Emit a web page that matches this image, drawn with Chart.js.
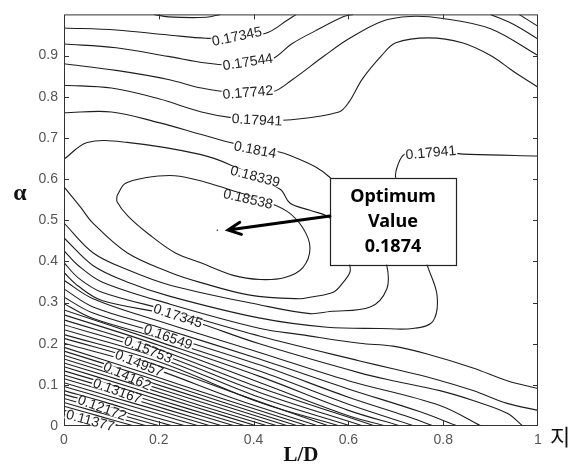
<!DOCTYPE html>
<html>
<head>
<meta charset="utf-8">
<script src="https://cdn.jsdelivr.net/npm/chart.js@4.4.0/dist/chart.umd.min.js"></script>
<style>
  html, body { margin: 0; padding: 0; background: #fff; }
</style>
</head>
<body>
<canvas id="contour" width="577" height="468"></canvas>
<script>
// axis ticks
const xTicks = [0, 0.2, 0.4, 0.6, 0.8, 1];
const yTicks = [0, 0.1, 0.2, 0.3, 0.4, 0.5, 0.6, 0.7, 0.8, 0.9];

// upper contours (L/D, alpha pairs)
const top17146 = [[0.19, 1.0], [0.22, 0.994], [0.30, 0.993], [0.33, 1.0]];
const top17345 = [[0, 0.967], [0.11, 0.962], [0.22, 0.950], [0.30, 0.942], [0.37, 0.942], [0.43, 0.956], [0.47, 0.985], [0.49, 1.0]];
const top17345r = [[0.96, 1.0], [1.0, 0.971]];
const top17544 = [[0, 0.928], [0.11, 0.919], [0.22, 0.898], [0.30, 0.882], [0.38, 0.876], [0.44, 0.892], [0.48, 0.928], [0.53, 0.96], [0.59, 0.995], [0.61, 1.0]];
const top17544r = [[0.90, 1.0], [0.95, 0.975], [1.0, 0.94]];
const top17742 = [[0, 0.880], [0.11, 0.864], [0.22, 0.842], [0.29, 0.821], [0.36, 0.810], [0.44, 0.812], [0.48, 0.84], [0.55, 0.90], [0.60, 0.94], [0.67, 0.983], [0.73, 0.995], [0.80, 0.990], [0.90, 0.965], [1.0, 0.90]];
const top17941 = [[0, 0.828], [0.10, 0.821], [0.20, 0.795], [0.29, 0.763], [0.36, 0.748], [0.43, 0.744], [0.48, 0.744], [0.58, 0.763], [0.60, 0.785], [0.63, 0.844], [0.67, 0.90], [0.70, 0.931], [0.77, 0.943], [0.84, 0.931], [0.90, 0.90], [0.95, 0.86], [1.0, 0.823]];

// contours around the optimum
const loop1814 = [[0, 0.761], [0.10, 0.763], [0.20, 0.737], [0.29, 0.708], [0.36, 0.686], [0.45, 0.667], [0.48, 0.656], [0.53, 0.630], [0.56, 0.605], [0.65, 0.50], [0.681, 0.39], [0.681, 0.333], [0.646, 0.289], [0.561, 0.278], [0.519, 0.273], [0.414, 0.294], [0.224, 0.342], [0.133, 0.380], [0.061, 0.421], [0, 0.493]];
const loop18339 = [[0, 0.648], [0.049, 0.689], [0.133, 0.689], [0.287, 0.660], [0.35, 0.635], [0.456, 0.575], [0.477, 0.541], [0.519, 0.524], [0.561, 0.505], [0.59, 0.45], [0.603, 0.39], [0.603, 0.373], [0.589, 0.349], [0.568, 0.325], [0.519, 0.313], [0.498, 0.309], [0.392, 0.318], [0.287, 0.349], [0.224, 0.373], [0.133, 0.421], [0.061, 0.493], [0.034, 0.533], [0, 0.581]];
const ring18538 = [[0.112, 0.560], [0.129, 0.589], [0.171, 0.603], [0.234, 0.608], [0.297, 0.593], [0.350, 0.574], [0.414, 0.550], [0.470, 0.522], [0.504, 0.481], [0.519, 0.433], [0.504, 0.385], [0.466, 0.361], [0.414, 0.356], [0.357, 0.366], [0.287, 0.397], [0.234, 0.421], [0.181, 0.464], [0.135, 0.510], [0.112, 0.545], [0.112, 0.560]];
const side17941 = [[1.0, 0.656], [0.857, 0.660], [0.77, 0.665], [0.719, 0.660], [0.705, 0.636], [0.70, 0.603], [0.74, 0.50], [0.766, 0.392], [0.787, 0.318], [0.778, 0.254], [0.736, 0.237], [0.667, 0.237], [0.555, 0.240], [0.414, 0.262], [0.224, 0.315], [0.133, 0.350], [0.061, 0.390], [0, 0.457]];

// lower contours that run out at the right edge
const low17742 = [[0, 0.426], [0.03, 0.39], [0.08, 0.35], [0.224, 0.296], [0.414, 0.237], [0.50, 0.222], [0.624, 0.201], [0.694, 0.194], [0.766, 0.175], [0.863, 0.141], [0.935, 0.110], [1.0, 0.091]];
const low17544 = [[0, 0.397], [0.03, 0.36], [0.08, 0.325], [0.224, 0.280], [0.414, 0.218], [0.624, 0.158], [0.694, 0.139], [0.78, 0.115], [0.863, 0.086], [0.935, 0.055], [1.0, 0.038]];
const low17345 = [[0, 0.373], [0.03, 0.34], [0.08, 0.305], [0.24, 0.266], [0.414, 0.199], [0.624, 0.129], [0.694, 0.110], [0.793, 0.086], [0.863, 0.062], [0.935, 0.031], [0.968, 0]];

// dense band, lowest level first (0.11377, 0.11576, ...)
const denseLines = [
  [[0, 0.029], [0.030, 0.019], [0.059, 0.010], [0.089, 0]],
  [[0, 0.038], [0.039, 0.025], [0.079, 0.013], [0.118, 0]],
  [[0, 0.048], [0.049, 0.032], [0.099, 0.016], [0.148, 0]],
  [[0, 0.057], [0.058, 0.038], [0.117, 0.019], [0.175, 0]],
  [[0, 0.067], [0.068, 0.045], [0.135, 0.022], [0.203, 0]],
  [[0, 0.077], [0.077, 0.052], [0.153, 0.025], [0.230, 0]],
  [[0, 0.086], [0.086, 0.058], [0.171, 0.028], [0.257, 0]],
  [[0, 0.096], [0.095, 0.064], [0.190, 0.032], [0.285, 0]],
  [[0, 0.105], [0.103, 0.070], [0.207, 0.035], [0.310, 0]],
  [[0, 0.115], [0.112, 0.077], [0.223, 0.038], [0.335, 0]],
  [[0, 0.124], [0.120, 0.083], [0.241, 0.041], [0.361, 0]],
  [[0, 0.134], [0.128, 0.090], [0.256, 0.044], [0.384, 0]],
  [[0, 0.144], [0.136, 0.096], [0.271, 0.048], [0.407, 0]],
  [[0, 0.153], [0.143, 0.103], [0.287, 0.050], [0.430, 0]],
  [[0, 0.163], [0.150, 0.109], [0.301, 0.054], [0.451, 0]],
  [[0, 0.172], [0.158, 0.115], [0.315, 0.057], [0.473, 0]],
  [[0, 0.182], [0.165, 0.122], [0.329, 0.060], [0.494, 0]],
  [[0, 0.191], [0.172, 0.128], [0.343, 0.063], [0.515, 0]],
  [[0, 0.201], [0.18, 0.143], [0.36, 0.066], [0.536, 0]],
  [[0, 0.213], [0.19, 0.150], [0.38, 0.072], [0.559, 0]],
  [[0, 0.222], [0.20, 0.156], [0.414, 0.057], [0.582, 0]],
  [[0, 0.234], [0.20, 0.166], [0.414, 0.069], [0.605, 0]],
  [[0, 0.246], [0.20, 0.176], [0.414, 0.081], [0.631, 0]],
  [[0, 0.258], [0.20, 0.186], [0.414, 0.093], [0.656, 0]],
  [[0, 0.270], [0.20, 0.196], [0.414, 0.105], [0.60, 0.025], [0.68, 0]],
  [[0, 0.282], [0.20, 0.205], [0.414, 0.120], [0.60, 0.038], [0.71, 0]],
  [[0, 0.297], [0.06, 0.262], [0.20, 0.214], [0.414, 0.133], [0.60, 0.053], [0.74, 0]],
  [[0, 0.313], [0.06, 0.275], [0.20, 0.226], [0.414, 0.148], [0.60, 0.070], [0.72, 0.025], [0.78, 0]],
  [[0, 0.333], [0.06, 0.290], [0.20, 0.240], [0.414, 0.162], [0.60, 0.090], [0.75, 0.035], [0.83, 0]],
  [[0, 0.354], [0.06, 0.310], [0.20, 0.255], [0.414, 0.178], [0.60, 0.110], [0.793, 0.050], [0.88, 0]]
];

// inline level labels: text, L/D, alpha, rotation (deg)
const levelLabels = [
  ['0.17345', 0.365, 0.945, -12], ['0.17544', 0.388, 0.883, -9], ['0.17742', 0.388, 0.809, -5],
  ['0.17941', 0.407, 0.742, 3], ['0.1814', 0.403, 0.670, 11], ['0.18339', 0.403, 0.605, 15],
  ['0.18538', 0.388, 0.550, 13], ['0.17941', 0.774, 0.663, -5],
  ['0.17345', 0.240, 0.266, 18], ['0.16549', 0.219, 0.215, 20], ['0.15753', 0.177, 0.184, 22],
  ['0.14957', 0.158, 0.151, 22], ['0.14162', 0.133, 0.120, 24], ['0.13167', 0.112, 0.084, 20],
  ['0.12172', 0.080, 0.043, 20], ['0.11377', 0.055, 0.012, 15]
];

// optimum marker and note box
const optimum = [0.323, 0.476];
const arrowFrom = [0.561, 0.51];
const boxCorners = [[0.561, 0.603], [0.827, 0.392]];
const boxText = ['Optimum', 'Value', '0.1874'];

const lineSets = [top17146, top17345, top17345r, top17544, top17544r, top17742, top17941,
  loop1814, loop18339, ring18538, side17941, low17742, low17544, low17345].concat(denseLines);

const datasets = lineSets.map(pts => ({
  data: pts.map(p => ({ x: p[0], y: p[1] })),
  showLine: true,
  borderColor: '#1e1e1e',
  borderWidth: 1.1,
  pointRadius: 0,
  tension: 0.35,
  fill: false
}));

const decor = {
  id: 'decor',
  afterDraw(chart) {
    const ctx = chart.ctx;
    const a = chart.chartArea;
    const xs = chart.scales.x, ys = chart.scales.y;
    ctx.save();

    // frame + inward ticks
    ctx.strokeStyle = '#333';
    ctx.lineWidth = 1;
    ctx.strokeRect(a.left + 0.5, a.top + 0.5, a.right - a.left - 1, a.bottom - a.top - 1);
    ctx.beginPath();
    xTicks.slice(1, -1).forEach(v => {
      const px = Math.round(xs.getPixelForValue(v)) + 0.5;
      ctx.moveTo(px, a.bottom); ctx.lineTo(px, a.bottom - 5);
      ctx.moveTo(px, a.top); ctx.lineTo(px, a.top + 5);
    });
    yTicks.slice(1).forEach(v => {
      const py = Math.round(ys.getPixelForValue(v)) + 0.5;
      ctx.moveTo(a.left, py); ctx.lineTo(a.left + 5, py);
      ctx.moveTo(a.right, py); ctx.lineTo(a.right - 5, py);
    });
    ctx.stroke();

    // level labels
    ctx.font = '14px "Liberation Sans", Arial, sans-serif';
    ctx.textAlign = 'center';
    ctx.textBaseline = 'middle';
    levelLabels.forEach(l => {
      const px = xs.getPixelForValue(l[1]), py = ys.getPixelForValue(l[2]);
      ctx.save();
      ctx.translate(px, py);
      ctx.rotate(l[3] * Math.PI / 180);
      const w = ctx.measureText(l[0]).width;
      ctx.fillStyle = '#fff';
      ctx.fillRect(-w / 2 - 1, -4, w + 2, 8);
      ctx.fillStyle = '#222';
      ctx.fillText(l[0], 0, 0);
      ctx.restore();
    });

    // note box
    const bx0 = xs.getPixelForValue(boxCorners[0][0]), by0 = ys.getPixelForValue(boxCorners[0][1]);
    const bx1 = xs.getPixelForValue(boxCorners[1][0]), by1 = ys.getPixelForValue(boxCorners[1][1]);
    ctx.fillStyle = '#fff';
    ctx.fillRect(bx0, by0, bx1 - bx0, by1 - by0);
    ctx.strokeStyle = '#222';
    ctx.lineWidth = 1.2;
    ctx.strokeRect(Math.round(bx0) + 0.5, Math.round(by0) + 0.5, Math.round(bx1 - bx0), Math.round(by1 - by0));
    ctx.fillStyle = '#000';
    ctx.font = 'bold 18px "Noto Sans", "Open Sans", sans-serif';
    const cx = (bx0 + bx1) / 2;
    boxText.forEach((t, i) => ctx.fillText(t, cx, by0 + 19 + i * 25));

    // arrow to optimum
    const ox = xs.getPixelForValue(optimum[0]), oy = ys.getPixelForValue(optimum[1]);
    const ax = xs.getPixelForValue(arrowFrom[0]), ay = ys.getPixelForValue(arrowFrom[1]);
    const tipX = ox + 11, tipY = oy;
    const ang = Math.atan2(tipY - ay, tipX - ax);
    ctx.strokeStyle = '#000';
    ctx.lineWidth = 3;
    ctx.lineCap = 'round';
    ctx.beginPath();
    ctx.moveTo(ax, ay); ctx.lineTo(tipX, tipY);
    ctx.moveTo(tipX - 14 * Math.cos(ang - 0.45), tipY - 14 * Math.sin(ang - 0.45));
    ctx.lineTo(tipX, tipY);
    ctx.lineTo(tipX - 14 * Math.cos(ang + 0.45), tipY - 14 * Math.sin(ang + 0.45));
    ctx.stroke();
    ctx.fillStyle = '#555';
    ctx.fillRect(ox - 0.5, oy - 0.5, 1.5, 1.5);

    // axis names
    ctx.fillStyle = '#111';
    ctx.font = 'bold 21px "Liberation Serif", "DejaVu Serif", serif';
    ctx.fillText('L/D', (a.left + a.right) / 2, a.bottom + 30);
    ctx.font = 'bold 24px "Liberation Serif", "DejaVu Serif", serif';
    ctx.fillText('\u03b1', 20, ys.getPixelForValue(0.565));
    ctx.font = '22px "Noto Sans CJK KR", sans-serif';
    ctx.textAlign = 'left';
    ctx.fillText('\uc9c0', a.right + 12, a.bottom + 11);
    ctx.restore();
  }
};

new Chart(document.getElementById('contour'), {
  type: 'scatter',
  data: { datasets: datasets },
  options: {
    responsive: false,
    animation: false,
    layout: { padding: { top: 8, right: 39, left: 0, bottom: 0 } },
    plugins: { legend: { display: false }, tooltip: { enabled: false } },
    scales: {
      x: {
        type: 'linear', min: 0, max: 1,
        afterFit: s => { s.height = 42; },
        afterBuildTicks: s => { s.ticks = xTicks.map(v => ({ value: v })); },
        grid: { display: false, drawTicks: false },
        border: { display: false },
        ticks: { padding: 6, color: '#555', font: { family: '"Liberation Sans", Arial, sans-serif', size: 14 },
          callback: v => (v === 0 || v === 1) ? String(v) : v.toFixed(1) }
      },
      y: {
        type: 'linear', min: 0, max: 1,
        afterFit: s => { s.width = 64; },
        afterBuildTicks: s => { s.ticks = yTicks.map(v => ({ value: v })); },
        grid: { display: false, drawTicks: false },
        border: { display: false },
        ticks: { padding: 6, color: '#555', font: { family: '"Liberation Sans", Arial, sans-serif', size: 14 },
          callback: v => v === 0 ? '0' : v.toFixed(1) }
      }
    }
  },
  plugins: [decor]
});
</script>
</body>
</html>
